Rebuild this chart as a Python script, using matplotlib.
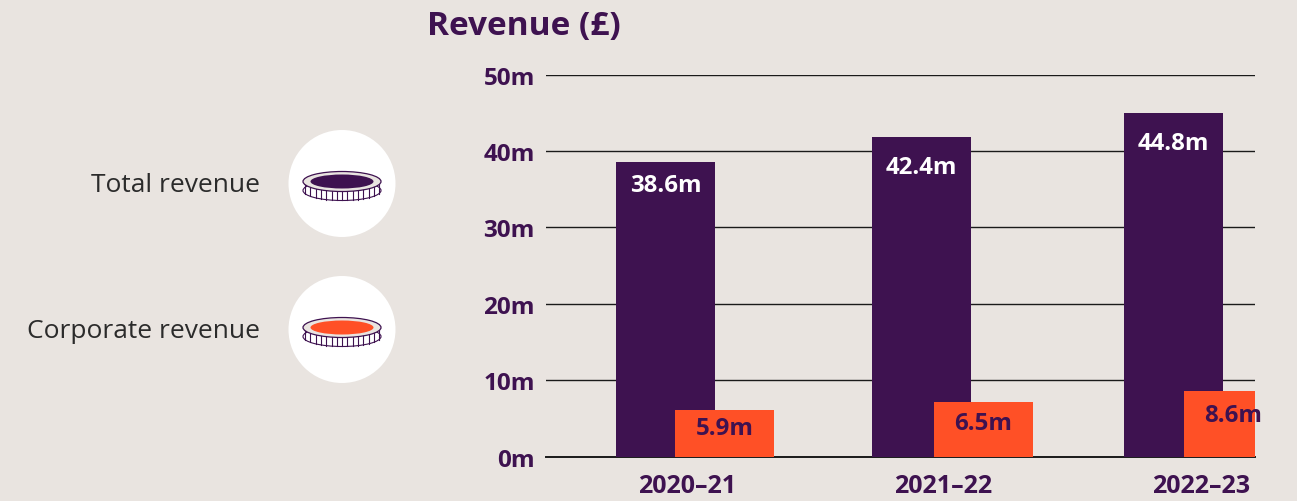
import numpy as np
import matplotlib
matplotlib.use("Agg")
import matplotlib.pyplot as plt
from matplotlib.patches import Circle, Ellipse

W, H = 1297, 502
BG = "#e9e4e0"
PURPLE = "#3e1250"
ORANGE = "#ff5026"
DARK = "#2b2b2b"

years = ["2020–21", "2021–22", "2022–23"]
total_heights = [38.5, 41.8, 45.0]
corporate_heights = [6.1, 7.2, 8.6]
total_labels = ["38.6m", "42.4m", "44.8m"]
corporate_labels = ["5.9m", "6.5m", "8.6m"]
y_ticks = [0, 10, 20, 30, 40, 50]
y_tick_labels = ["0m", "10m", "20m", "30m", "40m", "50m"]

plt.rcParams["font.family"] = ["Open Sans", "DejaVu Sans"]

# bars were placed by hand in the original, so centres are not evenly spaced
total_x = [665.5, 921.5, 1173.5]
corporate_x = [724.5, 983.5, 1233.5]
year_x = [687, 943, 1201]
total_label_y = [35.5, 37.9, 41.1]
corporate_label_y = [3.7, 4.4, 5.5]
bar_w = 99
AX_L, AX_R, AX_TOP, AX_BOT = 546, 1255, 75.6, 457.6


def draw_coin(ax, cx, cy, colour):
    ax.add_patch(Circle((cx, cy), 53.5, fc="white", ec="none"))
    # ridged edge of the coin
    ax.add_patch(Ellipse((cx, cy + 7), 78, 20, fc="white", ec=PURPLE, lw=0.8, zorder=2))
    for dx in np.arange(-37, 38, 5.3):
        bottom = cy + 7 + 10 * np.sqrt(1 - (dx / 39) ** 2)
        ax.plot([cx + dx, cx + dx], [cy, bottom], color=PURPLE, lw=0.8, zorder=3)
    ax.add_patch(Ellipse((cx, cy - 2), 78, 20, fc=BG, ec=PURPLE, lw=0.9, zorder=4))
    ax.add_patch(Ellipse((cx, cy - 2), 63, 14, fc=colour, ec="none", zorder=5))


fig = plt.figure(figsize=(W / 100, H / 100), dpi=100, facecolor=BG)

# overlay in pixel coordinates for the legend icons
bg = fig.add_axes([0, 0, 1, 1])
bg.set_xlim(0, W)
bg.set_ylim(H, 0)
bg.axis("off")

draw_coin(bg, 342, 184.5, PURPLE)
draw_coin(bg, 342, 330.5, ORANGE)
bg.text(260, 186, "Total revenue", ha="right", va="center", fontsize=19, color=DARK)
bg.text(260, 332, "Corporate revenue", ha="right", va="center", fontsize=19, color=DARK)
bg.text(427, 26, "Revenue (£)", ha="left", va="center", fontsize=24,
        fontweight="bold", color=PURPLE)

ax = fig.add_axes([AX_L / W, 1 - AX_BOT / H, (AX_R - AX_L) / W, (AX_BOT - AX_TOP) / H])
ax.patch.set_alpha(0)
ax.set_xlim(AX_L, AX_R)
ax.set_ylim(0, 50)
for s in ax.spines.values():
    s.set_visible(False)
ax.set_yticks(y_ticks)
ax.set_yticklabels(y_tick_labels, fontsize=17.5, fontweight="bold", color=PURPLE)
ax.set_xticks(year_x)
ax.set_xticklabels(years, fontsize=18, fontweight="bold", color=PURPLE)
ax.tick_params(axis="both", length=0)
ax.tick_params(axis="y", pad=8)
ax.tick_params(axis="x", pad=12)
ax.grid(axis="y", color="#1a1a1a", lw=1.0, zorder=1)
ax.set_axisbelow(True)
ax.axhline(0, color="#1a1a1a", lw=1.4, zorder=1, clip_on=False)

ax.bar(total_x, total_heights, width=bar_w, color=PURPLE, zorder=2)
# last orange bar is cut off at the end of the plot area in the original
ax.bar(corporate_x, corporate_heights, width=bar_w, color=ORANGE, zorder=3)

for x, y, lab in zip(total_x, total_label_y, total_labels):
    ax.text(x, y, lab, ha="center", va="center", fontsize=17.3,
            fontweight="bold", color="white", zorder=4)
for x, y, lab in zip(corporate_x, corporate_label_y, corporate_labels):
    ax.text(x, y, lab, ha="center", va="center", fontsize=17.3,
            fontweight="bold", color=PURPLE, zorder=4)

fig.savefig("out.png", dpi=100, facecolor=BG)
